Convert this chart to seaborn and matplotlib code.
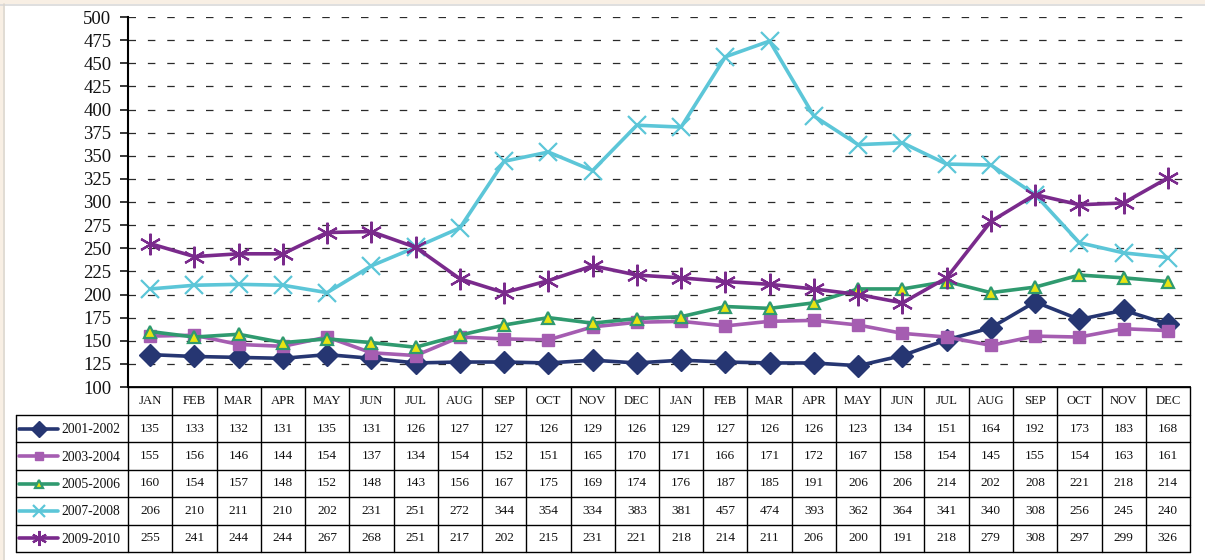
import numpy as np
import pandas as pd
import matplotlib
matplotlib.use("Agg")
import matplotlib.pyplot as plt
from matplotlib.lines import Line2D
from matplotlib.patches import Rectangle
import seaborn as sns

# ---- data -------------------------------------------------------------
months = ["JAN", "FEB", "MAR", "APR", "MAY", "JUN", "JUL", "AUG", "SEP", "OCT", "NOV", "DEC",
          "JAN", "FEB", "MAR", "APR", "MAY", "JUN", "JUL", "AUG", "SEP", "OCT", "NOV", "DEC"]

series_names = ["2001-2002", "2003-2004", "2005-2006", "2007-2008", "2009-2010"]

s_2001_2002 = [135, 133, 132, 131, 135, 131, 126, 127, 127, 126, 129, 126,
               129, 127, 126, 126, 123, 134, 151, 164, 192, 173, 183, 168]
s_2003_2004 = [155, 156, 146, 144, 154, 137, 134, 154, 152, 151, 165, 170,
               171, 166, 171, 172, 167, 158, 154, 145, 155, 154, 163, 161]
s_2005_2006 = [160, 154, 157, 148, 152, 148, 143, 156, 167, 175, 169, 174,
               176, 187, 185, 191, 206, 206, 214, 202, 208, 221, 218, 214]
s_2007_2008 = [206, 210, 211, 210, 202, 231, 251, 272, 344, 354, 334, 383,
               381, 457, 474, 393, 362, 364, 341, 340, 308, 256, 245, 240]
s_2009_2010 = [255, 241, 244, 244, 267, 268, 251, 217, 202, 215, 231, 221,
               218, 214, 211, 206, 200, 191, 218, 279, 308, 297, 299, 326]

series_values = [s_2001_2002, s_2003_2004, s_2005_2006, s_2007_2008, s_2009_2010]

y_ticks = list(range(100, 501, 25))

# ---- styles -----------------------------------------------------------
styles = {
    "2001-2002": dict(color="#263672", marker="D", ms=11, mfc="#263672", mec="#263672", mew=1),
    "2003-2004": dict(color="#a55db1", marker="s", ms=8.5, mfc="#a55db1", mec="#a55db1", mew=1),
    "2005-2006": dict(color="#2f9a6f", marker="^", ms=9, mfc="#e8e412", mec="#2f9a6f", mew=1.6),
    "2007-2008": dict(color="#5cc6d8", marker="x", ms=12.5, mfc="#5cc6d8", mec="#5cc6d8", mew=1.6),
    "2009-2010": dict(color="#7a2a8c", marker=(6, 2, 0), ms=15.5, mfc="#7a2a8c", mec="#7a2a8c", mew=1.6),
}

df = pd.DataFrame({
    "x": np.tile(np.arange(len(months)), len(series_names)),
    "value": np.concatenate(series_values),
    "series": np.repeat(series_names, len(months)),
})

sns.set_theme(style="white")
plt.rcParams["font.family"] = ["Liberation Serif", "DejaVu Serif"]

W, H = 1205, 560
fig = plt.figure(figsize=(W / 100, H / 100), dpi=100)
fig.patch.set_facecolor("white")


def px_box(x0, y0, x1, y1):
    """Pixel box (top-left origin) -> figure fraction [left, bottom, width, height]."""
    return [x0 / W, 1 - y1 / H, (x1 - x0) / W, (y1 - y0) / H]


# ---- main chart -------------------------------------------------------
ax = fig.add_axes(px_box(128, 17, 1190, 387))
ax.set_facecolor("white")
n = len(months)
for name in series_names:
    st = styles[name]
    sub = df[df["series"] == name]
    sns.lineplot(data=sub, x="x", y="value", ax=ax, color=st["color"], linewidth=2.6,
                 marker=st["marker"], markersize=st["ms"], markerfacecolor=st["mfc"],
                 markeredgecolor=st["mec"], markeredgewidth=st["mew"], legend=False,
                 zorder=3)

ax.set_xlim(-0.5, n - 0.5)
ax.set_ylim(100, 500)
ax.set_yticks(y_ticks)
ax.set_xticks([])
ax.set_xlabel("")
ax.set_ylabel("")
for yv in y_ticks[1:]:
    ax.plot([-0.5, n - 0.65], [yv, yv], color="#2a2a2a", linewidth=0.9,
            dashes=(6.0, 9.5), zorder=1, solid_capstyle="butt")
ax.tick_params(axis="y", direction="out", length=6, width=1.1, color="black",
               labelsize=13.5, pad=6, left=True)
for lbl in ax.get_yticklabels():
    lbl.set_color("#111111")
for side in ["top", "right"]:
    ax.spines[side].set_visible(False)
ax.spines["left"].set_color("black")
ax.spines["left"].set_linewidth(1.5)
ax.spines["bottom"].set_color("black")
ax.spines["bottom"].set_linewidth(1.3)

# ---- data table with legend keys --------------------------------------
tx0, tx1, ty0, ty1 = 16, 1190, 387, 552
tab = fig.add_axes(px_box(tx0, ty0, tx1, ty1))
col_w = (1190 - 128) / n
lead = (128 - tx0) / col_w
tab.set_xlim(-0.5 - lead, n - 0.5)
tab.set_ylim(ty1 - ty0, 0)
tab.axis("off")

header_h = 28
row_h = (ty1 - ty0 - header_h) / len(series_names)
row_edges = [header_h + row_h * i for i in range(len(series_names) + 1)]
line_kw = dict(color="black", linewidth=1.0, clip_on=False)

# vertical rules
for i in range(n + 1):
    tab.plot([i - 0.5, i - 0.5], [0, row_edges[-1]], **line_kw)
tab.plot([-0.5 - lead, -0.5 - lead], [row_edges[0], row_edges[-1]], **line_kw)
# horizontal rules
tab.plot([-0.5, n - 0.5], [0, 0], **line_kw)
for e in row_edges:
    tab.plot([-0.5 - lead, n - 0.5], [e, e], **line_kw)

# header text
for i, m in enumerate(months):
    tab.text(i, header_h / 2, m, ha="center", va="center", fontsize=9.2, color="#111111")

# rows
for r, name in enumerate(series_names):
    yc = (row_edges[r] + row_edges[r + 1]) / 2
    for i, v in enumerate(series_values[r]):
        tab.text(i, yc, str(v), ha="center", va="center", fontsize=9.6, color="#111111")
    st = styles[name]
    x_a = -0.5 - lead + 3 / col_w
    x_b = -0.5 - lead + 42 / col_w
    key = Line2D([x_a, x_b], [yc, yc], color=st["color"], linewidth=2.6)
    tab.add_line(key)
    km = Line2D([(x_a + x_b) / 2], [yc], marker=st["marker"], markersize=st["ms"] * 0.7,
                markerfacecolor=st["mfc"], markeredgecolor=st["mec"],
                markeredgewidth=st["mew"], linestyle="none")
    tab.add_line(km)
    tab.text(-0.5 - lead + 45 / col_w, yc + 1, name, ha="left", va="center",
             fontsize=9.8, color="#111111")

# ---- page frame ---------------------------------------------------------
fig.patches.append(Rectangle((0, 1 - 4 / H), 1, 4 / H, transform=fig.transFigure,
                             facecolor="#f8efe4", edgecolor="none", zorder=0))
fig.lines.append(Line2D([0, 1], [1 - 4.5 / H, 1 - 4.5 / H], transform=fig.transFigure,
                        color="#d9d9d9", linewidth=1.2))
fig.patches.append(Rectangle((0, 0), 3 / W, 1, transform=fig.transFigure,
                             facecolor="#f8efe4", edgecolor="none", zorder=0))
fig.lines.append(Line2D([3.5 / W, 3.5 / W], [0, 1 - 4 / H], transform=fig.transFigure,
                        color="#dcd6cc", linewidth=1.2))

fig.savefig("out.png", dpi=100, facecolor=fig.get_facecolor())
